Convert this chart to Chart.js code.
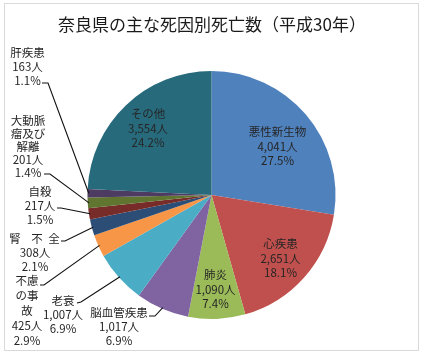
<!DOCTYPE html>
<html>
<head>
<meta charset="utf-8">
<script src="https://cdn.jsdelivr.net/npm/chart.js@4"></script>
<style>
html,body{margin:0;padding:0;background:#fff;}
#wrap{position:absolute;left:0;top:0;width:425px;height:357px;}
</style>
</head>
<body>
<div id="wrap"><canvas id="c" width="425" height="357"></canvas></div>
<script>
// ---- data ----
const titleText = '奈良県の主な死因別死亡数（平成30年）';
const categories = ['悪性新生物','心疾患','肺炎','脳血管疾患','老衰','不慮の事故','腎不全','自殺','大動脈瘤及び解離','肝疾患','その他'];
const deaths = [4041,2651,1090,1017,1007,425,308,217,201,163,3554];
const percents = ['27.5%','18.1%','7.4%','6.9%','6.9%','2.9%','2.1%','1.5%','1.4%','1.1%','24.2%'];
const countLabels = ['4,041人','2,651人','1,090人','1,017人','1,007人','425人','308人','217人','201人','163人','3,554人'];
const colors = ['#4F81BD','#C0504D','#9BBB59','#8064A2','#4BACC6','#F79646','#2C4D75','#772C2A','#5F7530','#4D3B62','#276A7C'];

// ---- label layout (offsets from pie centre; name lines split) ----
const labelLayout = [
  {name:['悪性新生物'], dx:66, dy:-63, lh:14.5},
  {name:['心疾患'], dx:69, dy:49, lh:14.5},
  {name:['肺炎'], dx:4, dy:80, lh:14.5},
  {name:['脳血管疾患'], dx:-92.5, dy:118, lh:14, line:[[-62.5,121],[-56.5,121]]},
  {name:['老衰'], dx:-148.5, dy:106, lh:14, line:[[-134.5,108],[-130.5,107]]},
  {name:['不慮','の事','故'], dx:-184.5, dy:86, lh:15, line:[[-171.5,90],[-167.5,90]]},
  {name:['腎不全'], spaced:[-196.5,-174.5,-157.5], dx:-176.5, dy:44, lh:14, line:[[-150.5,46],[-146.5,46]]},
  {name:['自殺'], dx:-171.5, dy:-3, lh:14, line:[[-154.5,13],[-150.5,13]]},
  {name:['大動脈','瘤及び','解離'], dx:-183.5, dy:-74, lh:13, line:[[-167.5,-21],[-161.5,-21]]},
  {name:['肝疾患'], dx:-184, dy:-142, lh:14, line:[[-169.5,-112],[-163.5,-112]]},
  {name:['その他'], dx:-63.5, dy:-81, lh:14.5}
];

const FONT = '"Noto Sans CJK JP", "Noto Sans", sans-serif';

const labelPlugin = {
  id: 'customLabels',
  afterDraw(chart) {
    const ctx = chart.ctx;
    const meta = chart.getDatasetMeta(0);
    const arc0 = meta.data[0];
    const cx = arc0.x, cy = arc0.y, R = arc0.outerRadius;
    ctx.save();
    // frame
    ctx.strokeStyle = '#D9D9D9';
    ctx.lineWidth = 1;
    ctx.strokeRect(4.5, 3.5, 414, 347);
    // title
    ctx.fillStyle = '#1a1a1a';
    ctx.font = '17px ' + FONT;
    ctx.textAlign = 'center';
    ctx.textBaseline = 'middle';
    ctx.fillText(titleText, 212, 25);
    // labels
    ctx.font = '11.5px ' + FONT;
    ctx.fillStyle = '#262626';
    labelLayout.forEach((L, i) => {
      const x = cx + L.dx;
      let y = cy + L.dy;
      const lines = [];
      if (L.spaced) {
        const chars = Array.from(categories[i]);
        chars.forEach((ch, k) => ctx.fillText(ch, cx + L.spaced[k], y));
        y += L.lh;
      } else {
        L.name.forEach(n => lines.push(n));
      }
      lines.push(countLabels[i], percents[i]);
      lines.forEach((t, k) => ctx.fillText(t, x, y + k * L.lh));
      if (L.line) {
        const a = meta.data[i];
        const mid = (a.startAngle + a.endAngle) / 2;
        const ex = cx + Math.cos(mid) * R * 0.99;
        const ey = cy + Math.sin(mid) * R * 0.99;
        ctx.strokeStyle = '#111';
        ctx.lineWidth = 1.1;
        ctx.beginPath();
        ctx.moveTo(cx + L.line[0][0], cy + L.line[0][1]);
        ctx.lineTo(cx + L.line[1][0], cy + L.line[1][1]);
        ctx.lineTo(ex, ey);
        ctx.stroke();
      }
    });
    ctx.restore();
  }
};

new Chart(document.getElementById('c'), {
  type: 'pie',
  data: {
    labels: categories,
    datasets: [{
      data: deaths,
      backgroundColor: colors,
      borderWidth: 0
    }]
  },
  options: {
    responsive: false,
    animation: false,
    layout: {padding: {top: 71, bottom: 38, left: 87.5, right: 89.5}},
    plugins: {legend: {display: false}, tooltip: {enabled: false}, title: {display: false}}
  },
  plugins: [labelPlugin]
});
</script>
</body>
</html>
